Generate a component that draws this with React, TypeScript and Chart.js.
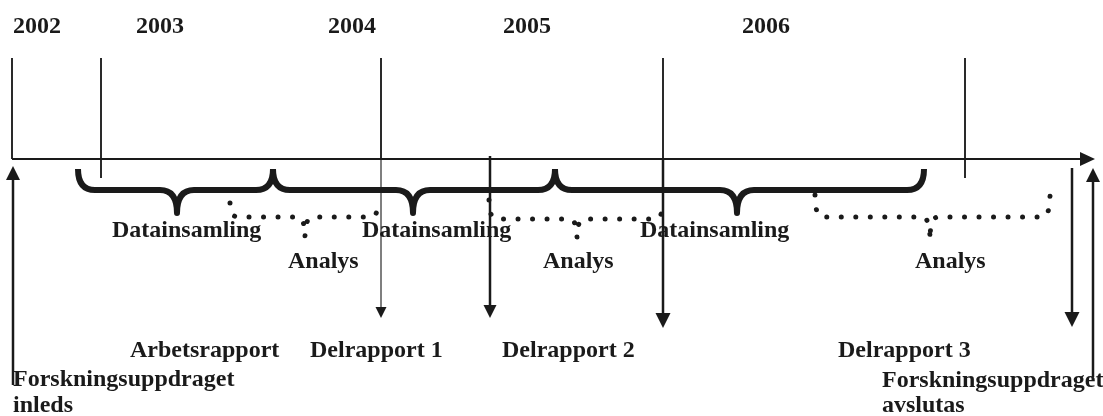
import React, { useEffect, useRef } from "react";
import { Chart, registerables } from "chart.js";

Chart.register(...registerables);

// Timeline (x in timeline units, y in row units; both map 1:1 onto the chart scales)
const yearLabels = ["2002", "2003", "2004", "2005", "2006"];
const yearLabelX = [13, 136, 328, 503, 742];
const yearLineX = [12, 101, 381, 663, 965];
const yearLineEnd = [159, 178, 159, 159, 178];
const yearLineTop = 58;
const axisY = 159;
const axisStart = 12;
const axisEnd = 1095;

// Data collection periods: [start, middle, end]
const collectionSpans = [
  [78, 177, 273],
  [273, 413, 555],
  [555, 737, 924],
];
const collectionLabelX = [112, 362, 640];

// Analysis periods: [start, middle, end]
const analysisSpans = [
  [230, 305, 378],
  [489, 577, 663],
  [815, 930, 1050],
];
const analysisTop = [203, 200, 195];
const analysisMid = [217, 219, 217];
const analysisTip = [237, 238, 240];
const analysisLabelX = [288, 543, 915];

// Report arrows (downwards): x, from, to
const reportArrowX = [381, 490, 663, 1072];
const reportArrowFrom = [159, 156, 159, 168];
const reportArrowTo = [318, 318, 328, 327];
const reportArrowHead = [11, 13, 15, 15];
const reportArrowWidth = [1.5, 2.5, 2.5, 2.5];
const reportArrowColor = ["#555", "#1a1a1a", "#1a1a1a", "#1a1a1a"];

// Start / end arrows (upwards)
const startEndArrowX = [13, 1093];
const startEndArrowFrom = [385, 377];
const startEndArrowTo = [166, 168];

const reportLabels = ["Arbetsrapport", "Delrapport 1", "Delrapport 2", "Delrapport 3"];
const reportLabelX = [130, 310, 502, 838];
const reportLabelY = 357;

const startEndLabels = [
  ["Forskningsuppdraget", 13, 386],
  ["inleds", 13, 412],
  ["Forskningsuppdraget", 882, 387],
  ["avslutas", 882, 412],
];

const INK = "#1a1a1a";
const FONT = "bold 24px 'Liberation Serif', 'Times New Roman', serif";

function lineDs(points: { x: number; y: number }[], width: number, color: string) {
  return {
    type: "line" as const,
    data: points,
    borderColor: color,
    borderWidth: width,
    pointRadius: 0,
    showLine: true,
    fill: false,
    tension: 0,
  };
}

const diagramPlugin = {
  id: "diagram",
  afterDatasetsDraw(chart: any) {
    const ctx: CanvasRenderingContext2D = chart.ctx;
    const xs = chart.scales.x;
    const ys = chart.scales.y;
    const X = (v: number) => xs.getPixelForValue(v);
    const Y = (v: number) => ys.getPixelForValue(v);

    const brace = (s: number[], top: number, mid: number, tip: number, r: number) => {
      const [a, m, b] = s;
      ctx.moveTo(X(a), Y(top));
      ctx.quadraticCurveTo(X(a), Y(mid), X(a + r), Y(mid));
      ctx.lineTo(X(m - r), Y(mid));
      ctx.quadraticCurveTo(X(m), Y(mid), X(m), Y(tip));
      ctx.quadraticCurveTo(X(m), Y(mid), X(m + r), Y(mid));
      ctx.lineTo(X(b - r), Y(mid));
      ctx.quadraticCurveTo(X(b), Y(mid), X(b), Y(top));
    };

    ctx.save();
    // solid braces
    ctx.strokeStyle = INK;
    ctx.lineWidth = 6;
    ctx.lineJoin = "round";
    ctx.lineCap = "butt";
    collectionSpans.forEach((s) => {
      ctx.beginPath();
      brace(s, 169, 190, 213, 17);
      ctx.stroke();
    });
    // dotted braces
    ctx.lineWidth = 5;
    ctx.lineCap = "round";
    ctx.setLineDash([0.01, 14.5]);
    analysisSpans.forEach((s, i) => {
      ctx.beginPath();
      brace(s, analysisTop[i], analysisMid[i], analysisTip[i], 8);
      ctx.stroke();
    });
    ctx.setLineDash([]);

    // arrow heads
    const head = (x: number, tipY: number, size: number, dir: number, color: string) => {
      ctx.fillStyle = color;
      ctx.beginPath();
      ctx.moveTo(X(x), Y(tipY));
      ctx.lineTo(X(x) - size / 2, Y(tipY) - dir * size);
      ctx.lineTo(X(x) + size / 2, Y(tipY) - dir * size);
      ctx.closePath();
      ctx.fill();
    };
    reportArrowX.forEach((x, i) => head(x, reportArrowTo[i], reportArrowHead[i], 1, INK));
    startEndArrowX.forEach((x, i) => head(x, startEndArrowTo[i], 14, -1, INK));
    // axis arrow head (pointing right)
    ctx.fillStyle = INK;
    ctx.beginPath();
    ctx.moveTo(X(axisEnd), Y(axisY));
    ctx.lineTo(X(axisEnd) - 15, Y(axisY) - 7);
    ctx.lineTo(X(axisEnd) - 15, Y(axisY) + 7);
    ctx.closePath();
    ctx.fill();

    // texts
    ctx.fillStyle = INK;
    ctx.font = FONT;
    ctx.textAlign = "left";
    ctx.textBaseline = "alphabetic";
    yearLabels.forEach((t, i) => ctx.fillText(t, X(yearLabelX[i]), Y(33)));
    collectionLabelX.forEach((x) => ctx.fillText("Datainsamling", X(x), Y(237)));
    analysisLabelX.forEach((x) => ctx.fillText("Analys", X(x), Y(268)));
    reportLabels.forEach((t, i) => ctx.fillText(t, X(reportLabelX[i]), Y(reportLabelY)));
    startEndLabels.forEach(([t, x, y]) => ctx.fillText(t as string, X(x as number), Y(y as number)));
    ctx.restore();
  },
};

export default function App() {
  const ref = useRef<HTMLCanvasElement | null>(null);

  useEffect(() => {
    document.body.style.margin = "0";
    if (!ref.current) return;

    const datasets: any[] = [];
    datasets.push(lineDs([{ x: axisStart, y: axisY }, { x: axisEnd - 10, y: axisY }], 2, INK));
    yearLineX.forEach((x, i) =>
      datasets.push(lineDs([{ x, y: yearLineTop }, { x, y: yearLineEnd[i] }], 2, "#2a2a2a"))
    );
    reportArrowX.forEach((x, i) =>
      datasets.push(
        lineDs(
          [{ x, y: reportArrowFrom[i] }, { x, y: reportArrowTo[i] - 8 }],
          reportArrowWidth[i],
          reportArrowColor[i]
        )
      )
    );
    startEndArrowX.forEach((x, i) =>
      datasets.push(
        lineDs([{ x, y: startEndArrowFrom[i] }, { x, y: startEndArrowTo[i] + 8 }], 2.5, INK)
      )
    );

    const chart = new Chart(ref.current, {
      type: "scatter",
      data: { datasets },
      options: {
        animation: false,
        responsive: true,
        maintainAspectRatio: false,
        layout: { padding: 0 },
        plugins: { legend: { display: false }, tooltip: { enabled: false } },
        events: [],
        scales: {
          x: { type: "linear", min: 0, max: 1103, display: false },
          y: { type: "linear", min: 0, max: 416, reverse: true, display: false },
        },
      },
      plugins: [diagramPlugin],
    });
    return () => chart.destroy();
  }, []);

  return (
    <div style={{ width: 1103, height: 416, position: "relative", background: "#fff" }}>
      <canvas ref={ref} />
    </div>
  );
}
